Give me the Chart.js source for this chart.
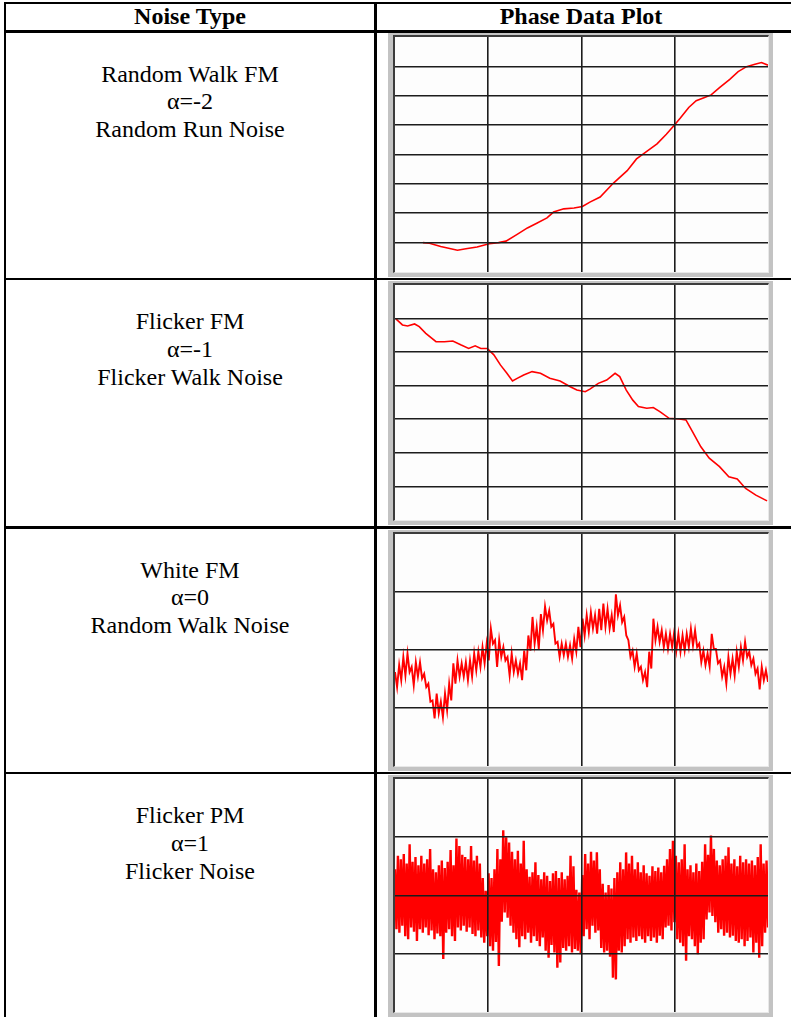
<!DOCTYPE html>
<html>
<head>
<meta charset="utf-8">
<script src="https://cdn.jsdelivr.net/npm/chart.js@4.4.1/dist/chart.umd.min.js"></script>
<style>
  body { margin: 0; background: #fff; width: 791px; height: 1017px; overflow: hidden; position: relative;
         font-family: "Liberation Serif", "Times New Roman", serif; color: #000; }
  .rule { position: absolute; background: #000; }
  .head { position: absolute; font-size: 24px; font-weight: bold; line-height: 27.6px; text-align: center; }
  .cell { position: absolute; left: 5px; width: 370px; font-size: 24px; line-height: 27.6px; text-align: center; }
  .frame { position: absolute; left: 388px; width: 385px; background: #c3c3c3; }
  .well { position: absolute; left: 393px; width: 376px; box-sizing: border-box; background: #fdfdfd;
          border-top: 2px solid #3c3c3c; border-left: 2px solid #3c3c3c;
          border-right: 1px solid #e8e8e8; border-bottom: 1px solid #e8e8e8; }
  canvas { position: absolute; left: 395px; }
</style>
</head>
<body>

<!-- table rules -->
<div class="rule" style="left:3.5px; top:1.5px; width:800px; height:2.5px"></div>
<div class="rule" style="left:3.5px; top:30px; width:800px; height:2.5px"></div>
<div class="rule" style="left:3.5px; top:277.8px; width:800px; height:2.5px"></div>
<div class="rule" style="left:3.5px; top:526.2px; width:800px; height:2.5px"></div>
<div class="rule" style="left:3.5px; top:771.8px; width:800px; height:2.5px"></div>
<div class="rule" style="left:3.5px; top:1.5px; width:2px; height:1020px"></div>
<div class="rule" style="left:374.2px; top:1.5px; width:2.5px; height:1020px"></div>

<div class="head" style="left:5px; width:370px; top:3px">Noise Type</div>
<div class="head" style="left:376px; width:410px; top:3px">Phase Data Plot</div>

<div class="cell" style="top:60.6px">Random Walk FM<br>&alpha;=-2<br>Random Run Noise</div>
<div class="cell" style="top:308.4px">Flicker FM<br>&alpha;=-1<br>Flicker Walk Noise</div>
<div class="cell" style="top:556.8px">White FM<br>&alpha;=0<br>Random Walk Noise</div>
<div class="cell" style="top:802.4px">Flicker PM<br>&alpha;=1<br>Flicker Noise</div>

<div class="frame" style="top:33px; height:244px"></div>
<div class="well" style="top:35px; height:238px"></div>
<canvas id="c1" width="373" height="235" style="top:37px"></canvas>

<div class="frame" style="top:281px; height:244px"></div>
<div class="well" style="top:283px; height:238px"></div>
<canvas id="c2" width="373" height="235" style="top:285px"></canvas>

<div class="frame" style="top:530px; height:241px"></div>
<div class="well" style="top:532px; height:235px"></div>
<canvas id="c3" width="373" height="232" style="top:534px"></canvas>

<div class="frame" style="top:775px; height:242px"></div>
<div class="well" style="top:777px; height:236px"></div>
<canvas id="c4" width="373" height="233" style="top:779px"></canvas>

<script>
// Random Walk FM (alpha = -2), grid units: x 0..4, y 0..8
var rwfmX = [0.30, 0.37, 0.49, 0.67, 0.76, 0.88, 1.01, 1.11, 1.19, 1.31, 1.42, 1.52, 1.63, 1.70, 1.81,
             1.92, 2.01, 2.09, 2.20, 2.34, 2.49, 2.59, 2.70, 2.81, 2.91, 2.99, 3.06, 3.15, 3.23, 3.32,
             3.39, 3.48, 3.59, 3.68, 3.77, 3.86, 3.93, 4.00];
var rwfmY = [1.00, 0.98, 0.87, 0.74, 0.79, 0.85, 0.96, 1.00, 1.05, 1.28, 1.50, 1.66, 1.84, 2.04, 2.15,
             2.18, 2.23, 2.38, 2.55, 3.02, 3.45, 3.85, 4.11, 4.36, 4.69, 4.98, 5.24, 5.60, 5.83, 5.94,
             6.03, 6.28, 6.56, 6.82, 6.99, 7.07, 7.13, 7.04];

// Flicker FM (alpha = -1), x 0..4, y 0..7
var ffmX = [0.01, 0.08, 0.135, 0.21, 0.26, 0.33, 0.44, 0.53, 0.62, 0.71, 0.79, 0.86, 0.92, 0.99, 1.06,
            1.13, 1.20, 1.26, 1.31, 1.38, 1.47, 1.56, 1.66, 1.77, 1.88, 1.95, 2.04, 2.09, 2.18, 2.27,
            2.36, 2.41, 2.48, 2.55, 2.61, 2.70, 2.77, 2.84, 2.94, 3.05, 3.12, 3.19, 3.28, 3.37, 3.48,
            3.58, 3.67, 3.76, 3.87, 3.99];
var ffmY = [5.99, 5.81, 5.78, 5.84, 5.76, 5.56, 5.31, 5.31, 5.33, 5.21, 5.11, 5.19, 5.11, 5.11, 4.92,
            4.62, 4.37, 4.14, 4.22, 4.32, 4.42, 4.37, 4.22, 4.14, 3.97, 3.87, 3.82, 3.90, 4.07, 4.17,
            4.37, 4.27, 3.87, 3.57, 3.38, 3.33, 3.35, 3.23, 3.03, 3.01, 2.98, 2.63, 2.18, 1.84, 1.59,
            1.29, 1.22, 0.94, 0.74, 0.57];

// White FM (alpha = 0), x 0..4, y 0..4 : upper / lower edge of the noisy trace
var wfmHi = [1.62, 1.74, 1.88, 1.94, 1.71, 1.79, 1.79, 1.59, 1.42, 1.13, 1.25, 1.11, 1.25, 1.42, 1.77,
             1.82, 1.77, 1.79, 1.82, 1.94, 1.97, 2.05, 2.11, 2.37, 2.17, 2.17, 2.05, 1.88, 1.94, 1.82,
             1.77, 1.99, 2.25, 2.57, 2.40, 2.62, 2.75, 2.68, 2.45, 2.14, 2.11, 2.11, 2.08, 2.19, 2.40,
             2.54, 2.60, 2.65, 2.60, 2.71, 2.80, 2.71, 2.60, 2.96, 2.77, 2.57, 2.17, 1.99, 1.94, 1.71,
             1.62, 1.97, 2.54, 2.40, 2.34, 2.28, 2.28, 2.31, 2.28, 2.25, 2.28, 2.37, 2.34, 2.11, 1.99,
             1.94, 2.28, 2.02, 1.82, 1.71, 1.88, 1.85, 1.97, 2.05, 2.14, 1.97, 1.85, 1.68, 1.71, 1.65];
var wfmLo = [1.36, 1.48, 1.56, 1.62, 1.39, 1.54, 1.51, 1.36, 1.11, 0.82, 0.91, 0.84, 0.96, 1.13, 1.42,
             1.54, 1.54, 1.48, 1.54, 1.65, 1.71, 1.77, 1.82, 2.11, 1.71, 1.88, 1.82, 1.56, 1.62, 1.59,
             1.48, 1.65, 1.99, 2.11, 2.02, 2.34, 2.51, 2.40, 2.11, 1.88, 1.91, 1.88, 1.85, 1.97, 2.05,
             2.25, 2.31, 2.37, 2.28, 2.34, 2.40, 2.37, 2.31, 2.60, 2.48, 2.25, 1.88, 1.71, 1.65, 1.48,
             1.36, 1.68, 2.17, 2.14, 2.05, 2.02, 2.05, 1.99, 1.97, 1.99, 2.05, 2.08, 2.05, 1.79, 1.74,
             1.71, 2.02, 1.77, 1.54, 1.42, 1.59, 1.56, 1.71, 1.82, 1.88, 1.74, 1.59, 1.32, 1.48, 1.45];

// Flicker PM (alpha = 1), x 0..4, y 0..4 : spike tops / spike bottoms
var flkHi = [2.45, 2.68, 2.62, 2.71, 2.55, 2.88, 2.58, 2.66, 2.52, 2.68, 2.55, 2.62, 2.80, 2.45, 2.40,
             2.52, 2.60, 2.47, 2.58, 2.78, 2.52, 2.98, 2.85, 2.70, 2.66, 2.62, 2.85, 2.60, 2.68, 2.55,
             2.30, 2.08, 2.38, 2.30, 2.45, 2.80, 2.62, 3.12, 3.00, 2.91, 2.75, 2.62, 2.77, 2.55, 2.94,
             2.45, 2.32, 2.40, 2.57, 2.35, 2.28, 2.40, 2.34, 2.25, 2.38, 2.42, 2.30, 2.40, 2.28, 2.34,
             2.68, 2.50, 2.10, 2.05, 2.35, 2.71, 2.55, 2.75, 2.60, 2.74, 2.45, 2.20, 2.05, 2.18, 2.12,
             2.30, 2.40, 2.57, 2.45, 2.74, 2.55, 2.68, 2.45, 2.57, 2.40, 2.52, 2.38, 2.34, 2.50, 2.42,
             2.48, 2.40, 2.51, 2.62, 2.80, 2.94, 2.68, 2.57, 2.62, 2.88, 2.45, 2.52, 2.40, 2.55, 2.42,
             2.58, 2.88, 2.70, 3.03, 2.80, 2.60, 2.52, 2.62, 2.68, 2.83, 2.55, 2.62, 2.50, 2.68, 2.57,
             2.62, 2.55, 2.60, 2.52, 2.66, 2.88, 2.55, 2.60];
var flkLo = [1.42, 1.36, 1.48, 1.30, 1.25, 1.45, 1.38, 1.22, 1.42, 1.36, 1.45, 1.32, 1.40, 1.25, 1.35,
             1.30, 0.91, 1.36, 1.42, 1.30, 1.22, 1.45, 1.40, 1.48, 1.38, 1.45, 1.34, 1.30, 1.40, 1.28,
             1.19, 1.30, 1.13, 1.05, 1.20, 0.79, 1.55, 1.71, 1.62, 1.48, 1.36, 1.25, 1.11, 1.30, 1.25,
             1.36, 1.19, 1.30, 1.22, 1.13, 1.28, 1.05, 0.93, 1.15, 1.02, 0.76, 0.85, 1.10, 1.05, 1.13,
             1.02, 1.08, 1.05, 0.99, 1.30, 1.42, 1.25, 1.48, 1.36, 1.40, 1.10, 1.02, 1.05, 0.95, 0.59,
             0.56, 1.05, 1.02, 1.13, 1.25, 1.19, 1.28, 1.22, 1.30, 1.25, 1.19, 1.30, 1.22, 1.28, 1.19,
             1.31, 1.25, 1.45, 1.48, 1.40, 1.54, 1.25, 1.19, 1.13, 0.88, 1.30, 1.25, 1.13, 0.99, 1.19,
             1.25, 1.59, 1.71, 1.65, 1.54, 1.36, 1.42, 1.31, 1.36, 1.28, 1.31, 1.22, 1.19, 1.25, 1.13,
             1.22, 1.28, 1.02, 1.19, 0.93, 1.13, 1.36, 1.45];

var GRID = '#1c1c1c';

function pairs(xs, ys) {
    return xs.map(function (x, i) { return { x: x, y: ys[i] }; });
}

// alternate top / bottom values so the trace zig-zags like the sampled noise
function zigzag(hi, lo) {
    var pts = [];
    var step = 4 / (hi.length - 0.5);
    for (var i = 0; i < hi.length; i++) {
        pts.push({ x: i * step, y: hi[i] });
        pts.push({ x: (i + 0.5) * step, y: lo[i] });
    }
    return pts;
}

// inner grid lines only, the frame draws the edges
function gridColor(ctx) {
    if (!ctx.tick) return GRID;
    var v = ctx.tick.value;
    if (v === ctx.scale.min || v === ctx.scale.max) return 'rgba(0,0,0,0)';
    return GRID;
}

function phasePlot(id, yMax, points, width) {
    return new Chart(document.getElementById(id), {
        type: 'line',
        data: {
            datasets: [{
                data: points,
                borderColor: '#ff0000',
                borderWidth: width,
                borderJoinStyle: 'miter',
                pointRadius: 0,
                tension: 0,
                fill: false
            }]
        },
        options: {
            responsive: false,
            animation: false,
            events: [],
            layout: { padding: 0 },
            plugins: { legend: { display: false }, tooltip: { enabled: false } },
            scales: {
                x: {
                    type: 'linear', min: 0, max: 4,
                    ticks: { display: false, stepSize: 1 },
                    border: { display: false },
                    grid: { drawTicks: false, color: gridColor, lineWidth: 1.6, z: 1 }
                },
                y: {
                    type: 'linear', min: 0, max: yMax,
                    ticks: { display: false, stepSize: 1 },
                    border: { display: false },
                    grid: { drawTicks: false, color: gridColor, lineWidth: 1.6, z: 1 }
                }
            }
        }
    });
}

phasePlot('c1', 8, pairs(rwfmX, rwfmY), 1.6);
phasePlot('c2', 7, pairs(ffmX, ffmY), 1.6);
phasePlot('c3', 4, zigzag(wfmHi, wfmLo), 1.9);
phasePlot('c4', 4, zigzag(flkHi, flkLo), 2.4);
</script>
</body>
</html>
